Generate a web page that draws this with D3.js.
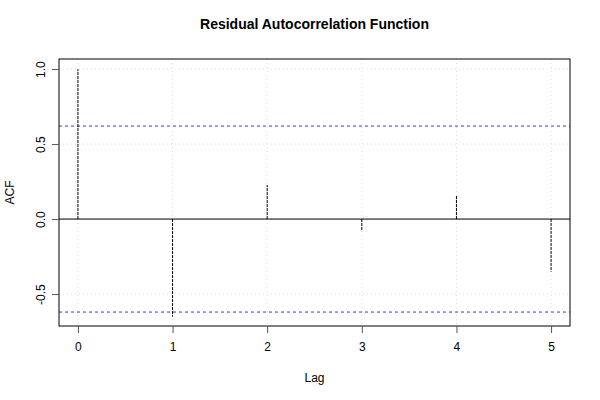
<!DOCTYPE html>
<html><head><meta charset="utf-8">
<script src="https://cdn.jsdelivr.net/npm/d3@7"></script>
<style>body{margin:0;background:#fff}svg{display:block}text{font-family:"Liberation Sans",Arial,sans-serif}</style>
</head><body>
<script>
const lags = [0, 1, 2, 3, 4, 5];
const acfValues = [1.0, -0.651, 0.227, -0.073, 0.16, -0.351];
const confLimit = [0.62, -0.62];
const xTicks = [0, 1, 2, 3, 4, 5];
const yTicks = [-0.5, 0.0, 0.5, 1.0];
const yTickLabels = ["-0.5", "0.0", "0.5", "1.0"];

const W = 600, H = 400;
const m = {left: 59, right: 30, top: 59, bottom: 74};
const svg = d3.select("body").append("svg").attr("width", W).attr("height", H);
const x = d3.scaleLinear().domain([-0.2, 5.2]).range([m.left, W - m.right]);
const y = d3.scaleLinear().domain([-0.713, 1.067]).range([H - m.bottom, m.top]);

// grid
svg.append("g").selectAll("line").data(xTicks).join("line")
  .attr("x1", d => x(d)).attr("x2", d => x(d)).attr("y1", y.range()[1]).attr("y2", y.range()[0])
  .attr("stroke", "#dcdcdc").attr("stroke-dasharray", "1,3");
svg.append("g").selectAll("line").data(yTicks).join("line")
  .attr("x1", x.range()[0]).attr("x2", x.range()[1]).attr("y1", d => y(d)).attr("y2", d => y(d))
  .attr("stroke", "#dcdcdc").attr("stroke-dasharray", "1,3");

// confidence limits
svg.append("g").selectAll("line").data(confLimit).join("line")
  .attr("x1", x.range()[0]).attr("x2", x.range()[1]).attr("y1", d => y(d)).attr("y2", d => y(d))
  .attr("stroke", "#3333ff").attr("stroke-dasharray", "3,3");

// zero line
svg.append("line").attr("x1", x.range()[0]).attr("x2", x.range()[1])
  .attr("y1", y(0)).attr("y2", y(0)).attr("stroke", "#000");

// spikes
svg.append("g").selectAll("line").data(lags).join("line")
  .attr("x1", d => x(d)).attr("x2", d => x(d))
  .attr("y1", y(0)).attr("y2", (d, i) => y(acfValues[i]))
  .attr("stroke", "#000").attr("stroke-dasharray", "3,1");

// box
svg.append("rect").attr("x", x.range()[0]).attr("y", y.range()[1])
  .attr("width", x.range()[1] - x.range()[0]).attr("height", y.range()[0] - y.range()[1])
  .attr("fill", "none").attr("stroke", "#000");

// axes
const xAxis = d3.axisBottom(x).tickValues(xTicks).tickFormat(d3.format("d")).tickSize(7).tickPadding(9);
const gx = svg.append("g").attr("transform", `translate(0,${y.range()[0]})`).call(xAxis);
gx.select(".domain").remove();
gx.selectAll("line").attr("stroke", "#555");
gx.selectAll("text").attr("font-size", 12).attr("fill", "#000");

const yAxis = d3.axisLeft(y).tickValues(yTicks).tickFormat((d, i) => yTickLabels[i]).tickSize(7);
const gy = svg.append("g").attr("transform", `translate(${x.range()[0]},0)`).call(yAxis);
gy.select(".domain").remove();
gy.selectAll("line").attr("stroke", "#555");
gy.selectAll("text").attr("font-size", 12).attr("fill", "#000")
  .attr("text-anchor", "middle").attr("dy", "0").attr("x", 0).attr("y", 0)
  .attr("transform", "translate(-14,0) rotate(-90)");

// titles
svg.append("text").attr("x", (x.range()[0] + x.range()[1]) / 2).attr("y", 29)
  .attr("text-anchor", "middle").attr("font-size", 14).attr("font-weight", "bold")
  .text("Residual Autocorrelation Function");
svg.append("text").attr("x", (x.range()[0] + x.range()[1]) / 2).attr("y", 382)
  .attr("text-anchor", "middle").attr("font-size", 12).text("Lag");
svg.append("text").attr("transform", `translate(14,${(y.range()[0] + y.range()[1]) / 2}) rotate(-90)`)
  .attr("text-anchor", "middle").attr("font-size", 12).text("ACF");
</script>
</body></html>
